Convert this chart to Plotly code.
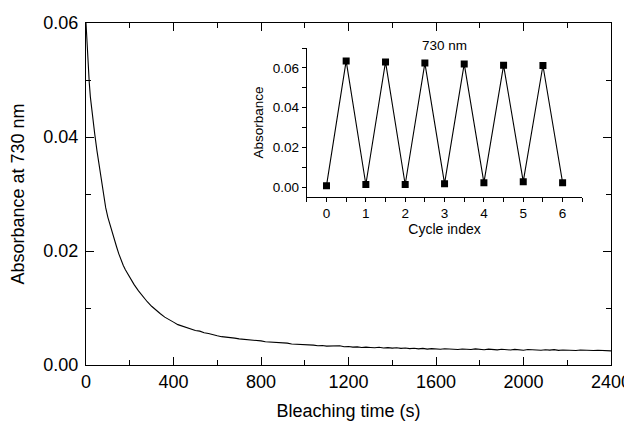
import plotly.graph_objects as go

# Main decay curve: bleaching time (s) and absorbance at 730 nm
time_s = [0, 5, 10, 15, 20, 30, 40, 50, 60, 70, 80, 90, 100, 110, 120, 130, 140, 150,
          160, 170, 180, 190, 200, 220, 240, 260, 280, 300, 320, 340, 360, 380] + \
         list(range(400, 2401, 20))
absorbance = [0.0600, 0.0560, 0.0525, 0.0495, 0.0470, 0.0433, 0.0405, 0.0376, 0.0349,
              0.0322, 0.0296, 0.0276, 0.0259, 0.0245, 0.0232, 0.0219, 0.0207, 0.0195,
              0.0184, 0.0175, 0.0167, 0.0160, 0.0153, 0.0141, 0.0130, 0.0120, 0.0111,
              0.0103, 0.0096, 0.0090, 0.0084, 0.0079,
              0.00752, 0.00708, 0.00683, 0.00648, 0.00632, 0.00606, 0.00594, 0.00566,
              0.00553, 0.00528, 0.00514, 0.00497, 0.00492, 0.00476, 0.00472, 0.00458,
              0.00452, 0.00437, 0.00441, 0.00426, 0.00423, 0.00408, 0.00404, 0.00396,
              0.00393, 0.00381, 0.00384, 0.00368, 0.00366, 0.00357, 0.00361, 0.00347,
              0.00349, 0.00337, 0.00343, 0.00331, 0.00334, 0.00326, 0.00338, 0.00321,
              0.00325, 0.00313, 0.00318, 0.00306, 0.00314, 0.00308, 0.00302, 0.00311,
              0.00298, 0.00305, 0.00296, 0.00303, 0.00291, 0.00297, 0.00287, 0.00294,
              0.00283, 0.00291, 0.00279, 0.00288, 0.00281, 0.00276, 0.00286, 0.00279,
              0.00284, 0.00273, 0.00282, 0.00277, 0.00271, 0.00283, 0.00275, 0.00268,
              0.00279, 0.00272, 0.00266, 0.00277, 0.00269, 0.00263, 0.00274, 0.00266,
              0.00259, 0.00271, 0.00264, 0.00268, 0.00258, 0.00267, 0.00261, 0.00269,
              0.00257, 0.00264, 0.00259, 0.00266, 0.00255, 0.00262, 0.00257, 0.00263,
              0.00254, 0.00259, 0.00252, 0.00257, 0.00248]

# Inset: cycling absorbance
cycle_index = [0, 0.5, 1, 1.5, 2, 2.5, 3, 3.5, 4, 4.5, 5, 5.5, 6]
cycle_abs = [0.0007, 0.0635, 0.0013, 0.0630, 0.0013, 0.0624, 0.0017, 0.0620,
             0.0022, 0.0613, 0.0027, 0.0612, 0.0022]

FONT = "Liberation Sans, Arial, sans-serif"

fig = go.Figure()
fig.add_trace(go.Scatter(x=time_s, y=absorbance, mode="lines",
                         line=dict(color="black", width=1.1), showlegend=False,
                         xaxis="x", yaxis="y"))
fig.add_trace(go.Scatter(x=cycle_index, y=cycle_abs, mode="lines+markers",
                         line=dict(color="black", width=1.1),
                         marker=dict(symbol="square", size=7, color="black"),
                         showlegend=False, xaxis="x2", yaxis="y2"))

axis_common = dict(showgrid=False, zeroline=False, showline=True, linecolor="black",
                   linewidth=1.2, ticks="inside", tickcolor="black", tickwidth=1.2,
                   ticklen=8, mirror="ticks", automargin=False,
                   tickfont=dict(size=18, color="black"))

# the page body has an 8px margin, so the figure is 8px smaller than the window
fig.update_layout(
    width=624, height=413,
    margin=dict(l=78, r=21, t=15, b=56),
    paper_bgcolor="white", plot_bgcolor="white",
    font=dict(family=FONT, color="black"),
    xaxis=dict(range=[0, 2400], tickmode="linear", tick0=0, dtick=400,
               title=dict(text="Bleaching time (s)", font=dict(size=18), standoff=13),
               minor=dict(tickmode="linear", tick0=0, dtick=200, ticklen=4.5,
                          ticks="inside", tickcolor="black", tickwidth=1.2),
               **axis_common),
    yaxis=dict(range=[0, 0.06], tickmode="linear", tick0=0, dtick=0.02, tickformat=".2f",
               ticklabelstandoff=3,
               title=dict(text="Absorbance at 730 nm", font=dict(size=18), standoff=14),
               minor=dict(tickmode="linear", tick0=0, dtick=0.01, ticklen=4.5,
                          ticks="inside", tickcolor="black", tickwidth=1.2),
               **axis_common),
    xaxis2=dict(domain=[0.4206, 0.9453], anchor="y2", range=[-0.5, 6.5],
                tickmode="linear", tick0=0, dtick=1,
                showgrid=False, zeroline=False, showline=True, linecolor="black",
                linewidth=1.2, ticks="outside", ticklen=4, tickwidth=1.2, tickcolor="black",
                minor=dict(tickmode="linear", tick0=0, dtick=0.5, ticklen=4,
                           ticks="outside", tickcolor="black", tickwidth=1.2),
                tickfont=dict(size=13.5), automargin=False,
                title=dict(text="Cycle index", font=dict(size=14), standoff=2)),
    yaxis2=dict(domain=[0.4912, 0.9269], anchor="x2", range=[-0.005, 0.07],
                tickmode="linear", tick0=0, dtick=0.02, tickformat=".2f",
                showgrid=False, zeroline=False, showline=True, linecolor="black",
                linewidth=1.2, ticks="outside", ticklen=4, tickwidth=1.2, tickcolor="black",
                minor=dict(tickmode="linear", tick0=0, dtick=0.01, ticklen=4,
                           ticks="outside", tickcolor="black", tickwidth=1.2),
                tickfont=dict(size=13.5), automargin=False,
                title=dict(text="Absorbance", font=dict(size=13.5), standoff=6)),
    annotations=[dict(text="730 nm", x=0.5, y=1.0, xref="x2 domain", yref="y2 domain",
                      yanchor="middle", yshift=3, showarrow=False,
                      font=dict(size=13.5, color="black"))],
)

fig.write_html("out.html")
